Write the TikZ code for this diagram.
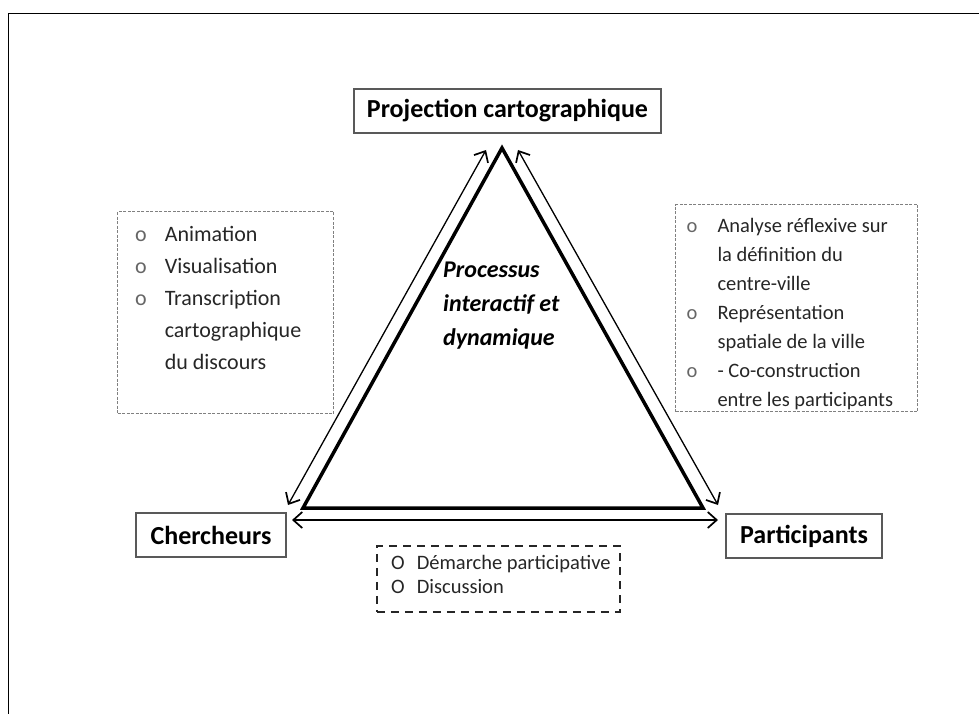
\documentclass[tikz,border=0pt]{standalone}
\usepackage{fontspec}
\setmainfont{Carlito}
\usetikzlibrary{arrows.meta}

\begin{document}
\begin{tikzpicture}[x = 1pt, y = -1pt,
    >= {Straight Barb[length = 9pt, width = 16pt, line width = 1.7pt]},
    pole/.style = {draw = black!65, line width = 1.3pt, fill = white, inner sep = 0pt,
                   minimum height = 44pt, font = \fontsize{26}{30}\selectfont\bfseries},
    listbox/.style = {draw = black!50, line width = 1pt, dash pattern = on 3pt off 1.5pt, anchor = north west},
    methbox/.style = {draw = black!85, line width = 1.6pt, dash pattern = on 8pt off 6pt, anchor = north west},
    listtext/.style = {anchor = base west, inner sep = 0pt, text = black!85},
    tri/.style = {line width = 3.5pt, line join = miter},
    link/.style = {<->, line width = 1.3pt}]
  \useasboundingbox (0,0) rectangle (979,714);
  \draw[line width = 1.5pt] (8.5,714) -- (8.5,13.5) -- (979,13.5);

  % the three poles
  \node[pole, minimum width = 307pt] (proj) at (507.5,111) {Projection cartographique};
  \node[pole, minimum width = 150pt] (cherch) at (211,535) {Chercheurs};
  \node[pole, minimum width = 156pt] (partic) at (804,536) {Participants};

  % triangle and links
  \coordinate (apex) at (502,148);
  \coordinate (bl) at (303,508);
  \coordinate (br) at (703,508);
  \draw[tri] (apex) -- (bl) -- (br) -- cycle;
  \coordinate (lt) at (486,150);
  \coordinate (lb) at (288,505);
  \coordinate (rt) at (518,150);
  \coordinate (rb) at (718,505);
  \coordinate (bw) at (292,520);
  \coordinate (be) at (718,520);
  \path[link] (lt) edge (lb)
              (rt) edge (rb)
              (bw) edge (be);

  \node[listtext, font = \fontsize{24}{34}\selectfont\bfseries\itshape, text = black] (processus) at (443,277)
    {\begin{tabular}[t]{@{}l@{}}Processus\\interactif et\\dynamique\end{tabular}};

  % lists
  \node[listbox, minimum width = 216pt, minimum height = 202pt] (outils) at (117,211) {};
  \node[listtext, font = \fontsize{22}{32}\selectfont] (outils-txt) at ([shift = {(18,30)}]outils.north west)
    {\begin{tabular}[t]{@{}l@{\hspace{18pt}}l@{}}
      \textcolor{black!60}{o} & Animation\\
      \textcolor{black!60}{o} & Visualisation\\
      \textcolor{black!60}{o} & Transcription\\
       & cartographique\\
       & du discours
    \end{tabular}};

  \node[listbox, minimum width = 242pt, minimum height = 207pt] (enjeux) at (675,204) {};
  \node[listtext, font = \fontsize{20.5}{29}\selectfont] (enjeux-txt) at ([shift = {(11.5,28.5)}]enjeux.north west)
    {\begin{tabular}[t]{@{}l@{\hspace{20pt}}l@{}}
      \textcolor{black!60}{o} & Analyse réflexive sur\\
       & la définition du\\
       & centre-ville\\
      \textcolor{black!60}{o} & Représentation\\
       & spatiale de la ville\\
      \textcolor{black!60}{o} & - Co-construction\\
       & entre les participants
    \end{tabular}};

  \node[methbox, minimum width = 243pt, minimum height = 66pt] (methode) at (376,545) {};
  \node[listtext, font = \fontsize{20.5}{24}\selectfont] (methode-txt) at ([shift = {(15,24.5)}]methode.north west)
    {\begin{tabular}[t]{@{}l@{\hspace{12pt}}l@{}}
      O & Démarche participative\\
      O & Discussion
    \end{tabular}};
\end{tikzpicture}
\end{document}
